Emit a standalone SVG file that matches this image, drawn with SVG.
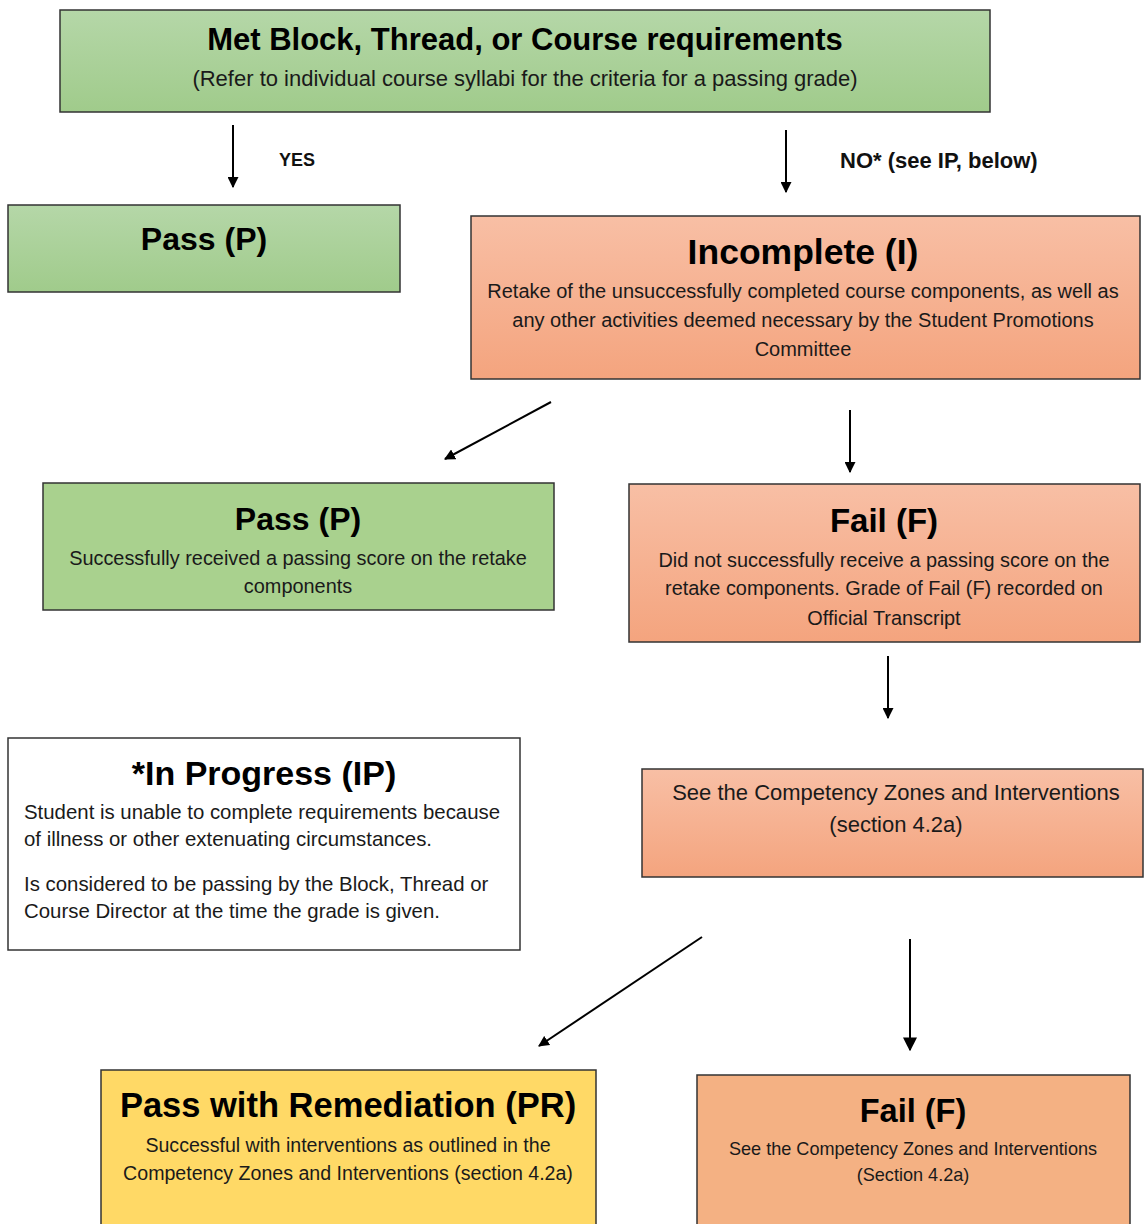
<svg xmlns="http://www.w3.org/2000/svg" width="1144" height="1224" viewBox="0 0 1144 1224">
<defs>
<linearGradient id="gGreen" x1="0" y1="0" x2="0" y2="1"><stop offset="0" stop-color="#b5d7a8"/><stop offset="1" stop-color="#a0cb8b"/></linearGradient>
<linearGradient id="gOrange" x1="0" y1="0" x2="0" y2="1"><stop offset="0" stop-color="#f8bfa5"/><stop offset="1" stop-color="#f4a47e"/></linearGradient>
<marker id="ah" viewBox="0 0 10 10" refX="9" refY="5" markerWidth="11" markerHeight="11" markerUnits="userSpaceOnUse" orient="auto"><path d="M0,0 L10,5 L0,10 z" fill="#000"/></marker>
<marker id="ahb" viewBox="0 0 10 10" refX="9" refY="5" markerWidth="14" markerHeight="14" markerUnits="userSpaceOnUse" orient="auto"><path d="M0,0 L10,5 L0,10 z" fill="#000"/></marker>
<style>
.box{stroke:#333;stroke-width:1.5}
.t{font-family:"Liberation Sans",Arial,sans-serif;font-weight:bold;fill:#000;text-anchor:middle}
.b{font-family:"Liberation Sans",Arial,sans-serif;fill:#1a1a1a;text-anchor:middle}
.l{font-family:"Liberation Sans",Arial,sans-serif;fill:#1a1a1a}
.lab{font-family:"Liberation Sans",Arial,sans-serif;font-weight:bold;fill:#111}
.c{stroke:#000;stroke-width:2;fill:none}
</style>
</defs>
<rect width="1144" height="1224" fill="#fff"/>

<g id="met">
<rect class="box" x="60" y="10" width="930" height="102" fill="url(#gGreen)"/>
<text class="t" x="525" y="50" font-size="31">Met Block, Thread, or Course requirements</text>
<text class="b" x="525" y="86" font-size="22">(Refer to individual course syllabi for the criteria for a passing grade)</text>
</g>

<g id="pass1">
<rect class="box" x="8" y="205" width="392" height="87" fill="url(#gGreen)"/>
<text class="t" x="204" y="250" font-size="32">Pass (P)</text>
</g>

<g id="incomplete">
<rect class="box" x="471" y="216" width="669" height="163" fill="url(#gOrange)"/>
<text class="t" x="803" y="264" font-size="35.5">Incomplete (I)</text>
<text class="b" x="803" y="298" font-size="20">Retake of the unsuccessfully completed course components, as well as</text>
<text class="b" x="803" y="327" font-size="20">any other activities deemed necessary by the Student Promotions</text>
<text class="b" x="803" y="356" font-size="20">Committee</text>
</g>

<g id="pass2">
<rect class="box" x="43" y="483" width="511" height="127" fill="#a9d18e"/>
<text class="t" x="298" y="530" font-size="32">Pass (P)</text>
<text class="b" x="298" y="565" font-size="19.9">Successfully received a passing score on the retake</text>
<text class="b" x="298" y="593" font-size="19.9">components</text>
</g>

<g id="fail1">
<rect class="box" x="629" y="484" width="511" height="158" fill="url(#gOrange)"/>
<text class="t" x="884" y="532" font-size="33">Fail (F)</text>
<text class="b" x="884" y="567" font-size="19.9">Did not successfully receive a passing score on the</text>
<text class="b" x="884" y="595" font-size="19.9">retake components. Grade of Fail (F) recorded on</text>
<text class="b" x="884" y="625" font-size="19.9">Official Transcript</text>
</g>

<g id="inprogress">
<rect class="box" x="8" y="738" width="512" height="212" fill="#fff"/>
<text class="t" x="264" y="785" font-size="34">*In Progress (IP)</text>
<text class="l" x="24" y="819" font-size="20.4">Student is unable to complete requirements because</text>
<text class="l" x="24" y="846" font-size="20.4">of illness or other extenuating circumstances.</text>
<text class="l" x="24" y="891" font-size="20.4">Is considered to be passing by the Block, Thread or</text>
<text class="l" x="24" y="918" font-size="20.4">Course Director at the time the grade is given.</text>
</g>

<g id="see">
<rect class="box" x="642" y="769" width="501" height="108" fill="url(#gOrange)"/>
<text class="b" x="896" y="800" font-size="22">See the Competency Zones and Interventions</text>
<text class="b" x="896" y="832" font-size="22">(section 4.2a)</text>
</g>

<g id="pr">
<rect class="box" x="101" y="1070" width="495" height="170" fill="#ffd966"/>
<text class="t" x="348" y="1117" font-size="34.5">Pass with Remediation (PR)</text>
<text class="b" x="348" y="1152" font-size="19.6">Successful with interventions as outlined in the</text>
<text class="b" x="348" y="1180" font-size="19.6">Competency Zones and Interventions (section 4.2a)</text>
</g>

<g id="fail2">
<rect class="box" x="697" y="1075" width="433" height="165" fill="#f4b183"/>
<text class="t" x="913" y="1122" font-size="32.5">Fail (F)</text>
<text class="b" x="913" y="1155" font-size="18.1">See the Competency Zones and Interventions</text>
<text class="b" x="913" y="1181" font-size="18.1">(Section 4.2a)</text>
</g>

<g id="connectors">
<line class="c" x1="233" y1="125" x2="233" y2="187" marker-end="url(#ah)"/>
<text class="lab" x="279" y="166" font-size="18">YES</text>
<line class="c" x1="786" y1="130" x2="786" y2="192" marker-end="url(#ah)"/>
<text class="lab" x="840" y="168" font-size="22">NO* (see IP, below)</text>
<line class="c" x1="551" y1="402" x2="445" y2="459" marker-end="url(#ah)"/>
<line class="c" x1="850" y1="410" x2="850" y2="472" marker-end="url(#ah)"/>
<line class="c" x1="888" y1="656" x2="888" y2="718" marker-end="url(#ah)"/>
<line class="c" x1="702" y1="937" x2="539" y2="1046" marker-end="url(#ah)"/>
<line class="c" x1="910" y1="939" x2="910" y2="1050" stroke-width="3.5" marker-end="url(#ahb)"/>
</g>
</svg>
